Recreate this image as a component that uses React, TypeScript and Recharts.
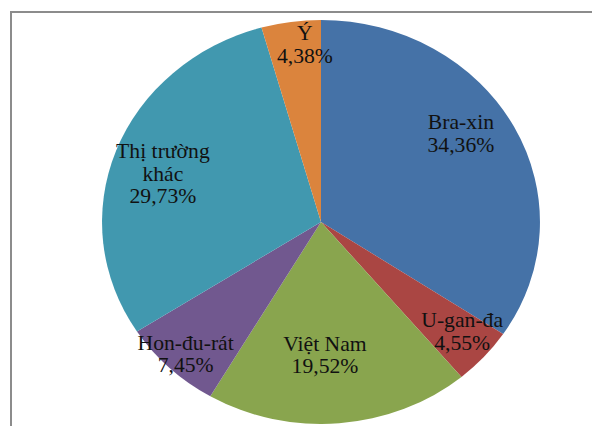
import React from 'react';
import { PieChart, Pie, Cell } from 'recharts';

const categories = ['Bra-xin', 'U-gan-đa', 'Việt Nam', 'Hon-đu-rát', 'Thị trường khác', 'Ý'];
const shares = [34.36, 4.55, 19.52, 7.45, 29.73, 4.38];
const sliceColors = ['#4572A7', '#AA4643', '#89A54E', '#71588F', '#4198AF', '#DB843D'];

// label placement relative to each slice: radius fraction and angle nudge (deg)
const labelRadiusFactor = [0.774, 0.844, 0.66, 0.9, 0.76, 0.88];
const labelAngleNudge = [6.2, 1.7, -3.2, 0.4, 2.5, -3.1];

const data = categories.map((name, i) => ({ name, value: shares[i] }));

const RAD = Math.PI / 180;
const LINE_H = 22.5;
const SERIF = "'Times New Roman', 'Liberation Serif', serif";

function wrapName(name: string): string[] {
  if (name.length > 11 && name.lastIndexOf(' ') > 0) {
    const k = name.lastIndexOf(' ');
    return [name.slice(0, k), name.slice(k + 1)];
  }
  return [name];
}

const renderLabel = (props: any) => {
  const { cx, cy, midAngle, outerRadius, index, name, value } = props;
  const r = outerRadius * labelRadiusFactor[index];
  const a = (midAngle + labelAngleNudge[index]) * RAD;
  const x = cx + r * Math.cos(-a);
  const y = cy + r * Math.sin(-a);
  const lines = [...wrapName(name), `${Number(value).toFixed(2).replace('.', ',')}%`];
  const y0 = y - ((lines.length - 1) * LINE_H) / 2;
  return (
    <text
      key={`lbl-${index}`}
      x={x}
      y={y0}
      textAnchor="middle"
      dominantBaseline="central"
      fill="#111"
      fontFamily={SERIF}
      fontSize={20}
      style={{ fontFamily: SERIF, fontSize: 20 }}
    >
      {lines.map((t, i) => (
        <tspan key={i} x={x} y={y0 + i * LINE_H} dominantBaseline="central" fontFamily={SERIF}>
          {t}
        </tspan>
      ))}
    </text>
  );
};

export default function App() {
  return (
    <div
      style={{
        position: 'fixed',
        left: 0,
        top: 0,
        width: 592,
        height: 426,
        overflow: 'hidden',
        background: '#fff',
        fontFamily: SERIF,
      }}
    >
      <div
        style={{
          position: 'absolute',
          left: 10,
          top: 11,
          width: 700,
          height: 500,
          borderLeft: '2px solid #8c8c8c',
          borderTop: '2px solid #8c8c8c',
        }}
      />
      <div
        style={{
          position: 'absolute',
          left: 0,
          top: 0,
          transform: 'scaleX(1.084)',
          transformOrigin: '321px 0px',
        }}
      >
        <PieChart width={592} height={426} margin={{ top: 0, right: 0, bottom: 0, left: 0 }}>
          <Pie
            data={data}
            dataKey="value"
            nameKey="name"
            cx={321}
            cy={222}
            outerRadius={202}
            startAngle={90}
            endAngle={-270}
            stroke="none"
            labelLine={false}
            label={renderLabel}
            isAnimationActive={false}
          >
            {data.map((d, i) => (
              <Cell key={d.name} fill={sliceColors[i]} />
            ))}
          </Pie>
        </PieChart>
      </div>
    </div>
  );
}
